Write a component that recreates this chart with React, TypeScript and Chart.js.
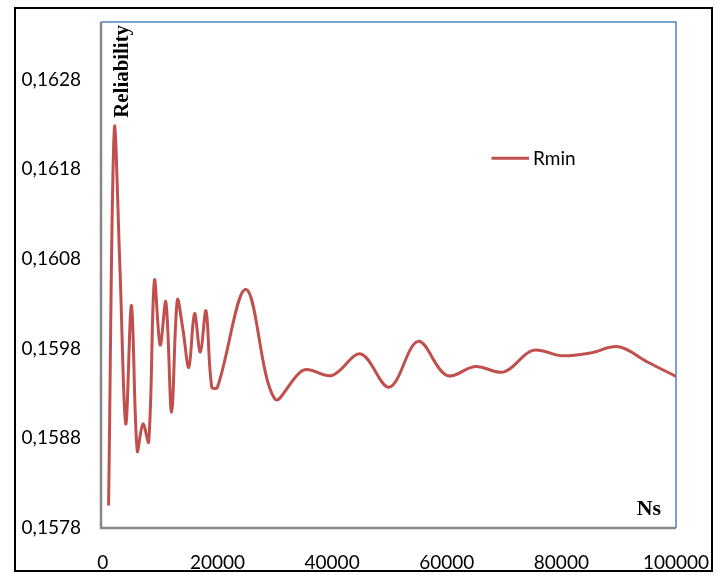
import React, { useEffect, useRef } from 'react';
import { Chart, registerables } from 'chart.js';

Chart.register(...registerables);

// Ns values (x)
const NS = [
  1000, 2000, 3000, 4000, 5000, 6000, 7000, 8000, 9000, 10000,
  11000, 12000, 13000, 14000, 15000, 16000, 17000, 18000, 19000, 20000,
  25000, 30000, 35000, 40000, 45000, 50000, 55000, 60000, 65000, 70000,
  75000, 80000, 85000, 90000, 95000, 100000,
];

// Rmin series (y)
const RMIN = [
  0.15805, 0.16225, 0.16067, 0.15896, 0.16028, 0.15866, 0.15896, 0.15876, 0.16056, 0.15984,
  0.16032, 0.15909, 0.16034, 0.16000, 0.15959, 0.16019, 0.15976, 0.16022, 0.15937, 0.15937,
  0.16046, 0.15924, 0.15956, 0.15950, 0.15974, 0.15937, 0.15988, 0.15950, 0.15960, 0.15954,
  0.15978, 0.15972, 0.15975, 0.15982, 0.15965, 0.15949,
];

const X_TICKS = [0, 20000, 40000, 60000, 80000, 100000];
const Y_TICKS = [0.1578, 0.1588, 0.1598, 0.1608, 0.1618, 0.1628];

const SERIES_NAME = 'Rmin';
const X_TITLE = 'Ns';
const Y_TITLE = 'Reliability';

const LINE_COLOR = '#C0504D';

const framePlugin = {
  id: 'frame',
  beforeDraw(chart: any) {
    const { ctx, width, height } = chart;
    ctx.save();
    ctx.fillStyle = '#ffffff';
    ctx.fillRect(0, 0, width, height);
    ctx.strokeStyle = '#000000';
    ctx.lineWidth = 2;
    ctx.strokeRect(15, 8, 697, 563);
    ctx.restore();
  },
  beforeDatasetsDraw(chart: any) {
    const { ctx, chartArea: a } = chart;
    ctx.save();
    ctx.strokeStyle = '#4F81BD';
    ctx.lineWidth = 1.5;
    ctx.beginPath();
    ctx.moveTo(a.left, a.top);
    ctx.lineTo(a.right, a.top);
    ctx.lineTo(a.right, a.bottom);
    ctx.stroke();
    ctx.strokeStyle = '#868686';
    ctx.lineWidth = 2.5;
    ctx.beginPath();
    ctx.moveTo(a.left, a.top);
    ctx.lineTo(a.left, a.bottom);
    ctx.lineTo(a.right, a.bottom);
    ctx.stroke();
    ctx.restore();
  },
  afterDatasetsDraw(chart: any) {
    const { ctx } = chart;
    ctx.save();
    ctx.fillStyle = '#000000';
    ctx.textBaseline = 'alphabetic';
    ctx.textAlign = 'left';

    // Y title (rotated, inside the plot)
    ctx.font = 'bold 20px "Liberation Serif"';
    const wy = ctx.measureText(Y_TITLE).width;
    ctx.save();
    ctx.translate(128.3, 117.7);
    ctx.rotate(-Math.PI / 2);
    ctx.scale(92.7 / wy, 1);
    ctx.fillText(Y_TITLE, 0, 0);
    ctx.restore();

    // X title
    const wx = ctx.measureText(X_TITLE).width;
    ctx.save();
    ctx.translate(636.7, 514.5);
    ctx.scale(24.3 / wx, 1);
    ctx.fillText(X_TITLE, 0, 0);
    ctx.restore();

    // Legend
    ctx.strokeStyle = LINE_COLOR;
    ctx.lineWidth = 3;
    ctx.beginPath();
    ctx.moveTo(491.5, 158.3);
    ctx.lineTo(529, 158.3);
    ctx.stroke();
    ctx.font = '19px Lato';
    ctx.fillStyle = '#000000';
    ctx.fillText(SERIES_NAME, 533, 164.5);
    ctx.restore();
  },
};

export default function App() {
  const canvasRef = useRef<HTMLCanvasElement | null>(null);

  useEffect(() => {
    const canvas = canvasRef.current;
    if (!canvas) return;
    const chart = new Chart(canvas, {
      type: 'line',
      data: {
        datasets: [
          {
            label: SERIES_NAME,
            data: NS.map((n, i) => ({ x: n, y: RMIN[i] })),
            borderColor: LINE_COLOR,
            borderWidth: 3,
            pointRadius: 0,
            tension: 0.35,
            fill: false,
          },
        ],
      },
      options: {
        animation: false,
        responsive: false,
        devicePixelRatio: 1,
        layout: { padding: { left: 0, top: 22, right: 44, bottom: 0 } },
        plugins: {
          legend: { display: false },
          tooltip: { enabled: false },
        },
        scales: {
          x: {
            type: 'linear',
            min: -320,
            max: 100000,
            grid: { display: false, drawTicks: false },
            border: { display: false },
            afterFit: (s: any) => {
              s.height = 47;
              s.paddingLeft = 0;
              s.paddingRight = 0;
            },
            afterBuildTicks: (s: any) => {
              s.ticks = X_TICKS.map((v) => ({ value: v }));
            },
            ticks: {
              padding: 23,
              color: '#000000',
              font: { family: 'Lato', size: 19 },
              maxRotation: 0,
              autoSkip: false,
              callback: (v: any) => String(v),
            },
          },
          y: {
            type: 'linear',
            min: 0.1578,
            max: 0.16344,
            grid: { display: false, drawTicks: false },
            border: { display: false },
            afterFit: (s: any) => {
              s.width = 101;
              s.paddingTop = 0;
              s.paddingBottom = 0;
            },
            afterBuildTicks: (s: any) => {
              s.ticks = Y_TICKS.map((v) => ({ value: v }));
            },
            ticks: {
              padding: 20,
              color: '#000000',
              font: { family: 'Lato', size: 19 },
              autoSkip: false,
              callback: (v: any) => Number(v).toFixed(4).replace('.', ','),
            },
          },
        },
      },
      plugins: [framePlugin],
    });
    return () => chart.destroy();
  }, []);

  return (
    <div style={{ position: 'fixed', left: 0, top: 0, width: 720, height: 575, background: '#fff' }}>
      <canvas ref={canvasRef} width={720} height={575} style={{ width: 720, height: 575, display: 'block' }} />
    </div>
  );
}
